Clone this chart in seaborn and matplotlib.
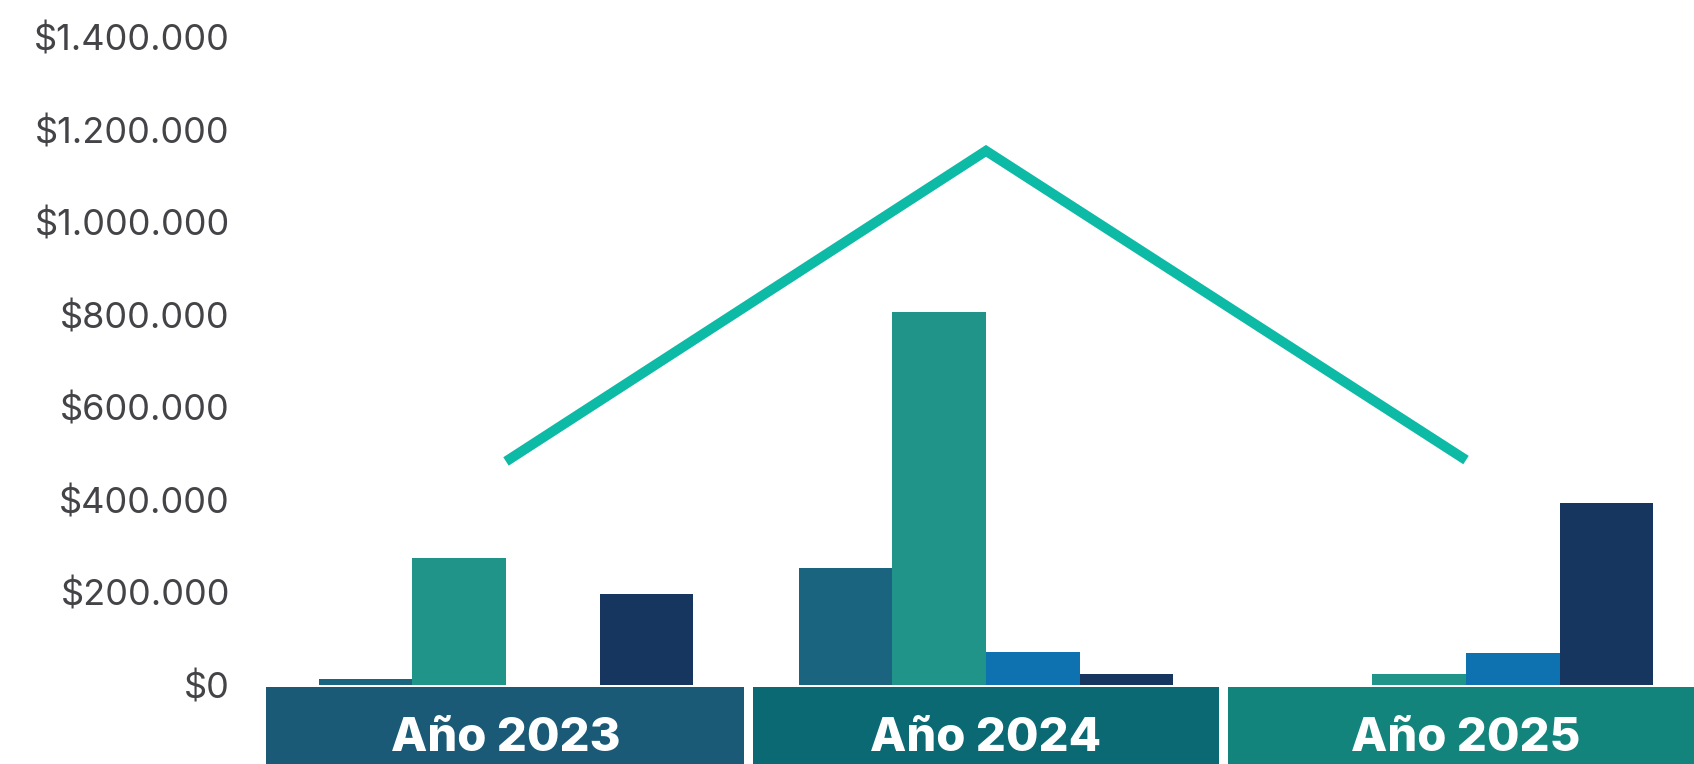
import matplotlib
matplotlib.use("Agg")
import matplotlib.pyplot as plt
import matplotlib.transforms as mtransforms
from matplotlib.patches import Rectangle
from matplotlib.ticker import FuncFormatter
import seaborn as sns
import pandas as pd

# ---- data ----
years = ["Año 2023", "Año 2024", "Año 2025"]
series_names = ["Serie 1", "Serie 2", "Serie 3", "Serie 4"]
serie1 = [13000, 253000, 0]
serie2 = [274000, 806000, 24000]
serie3 = [0, 71000, 69000]
serie4 = [196000, 24000, 393000]
totals = [483000, 1154000, 486000]
yticks = [0, 200000, 400000, 600000, 800000, 1000000, 1200000, 1400000]

bar_colors = ["#1B6480", "#219489", "#0E72B0", "#17365F"]
box_colors = ["#1A5A76", "#0A6973", "#13847C"]
line_color = "#0DBAA6"

rows = []
for name, vals in zip(series_names, [serie1, serie2, serie3, serie4]):
    for y, v in zip(years, vals):
        rows.append({"year": y, "serie": name, "value": v})
df = pd.DataFrame(rows)
df_line = pd.DataFrame({"pos": [0, 1, 2], "total": totals})

sns.set_theme(style="white")
plt.rcParams["font.family"] = ["Inter", "DejaVu Sans"]

W, H = 1694, 764
fig = plt.figure(figsize=(W / 100, H / 100), dpi=100)
left = 266 / W
bottom = (H - 685) / H
top = (H - 37) / H
ax = fig.add_axes([left, bottom, 1440 / W, top - bottom])

sns.barplot(data=df, x="year", y="value", hue="serie", order=years,
            hue_order=series_names, palette=bar_colors, width=0.78,
            saturation=1, linewidth=0, legend=False, ax=ax)

sns.lineplot(data=df_line, x="pos", y="total", color=line_color, linewidth=7.2,
             ax=ax, zorder=5, solid_capstyle="butt", solid_joinstyle="miter")

ax.set_xlim(-0.5, 2.5)
ax.set_ylim(0, 1400000)
ax.set_yticks(yticks)
ax.yaxis.set_major_formatter(FuncFormatter(lambda v, p: "$" + f"{int(v):,}".replace(",", ".")))
ax.tick_params(axis="y", length=0, pad=26, labelsize=26, labelcolor="#444448")
ax.set_xticks([])
ax.set_xlabel("")
ax.set_ylabel("")
for s in ax.spines.values():
    s.set_visible(False)

# category boxes below the axis
trans = mtransforms.blended_transform_factory(ax.transData, ax.transAxes)
box_spans = [(-0.5, 0.496), (0.515, 1.485), (1.504, 2.6)]
y0 = -79 / 648
y1 = -2 / 648
for (a, b), c, lab, cx in zip(box_spans, box_colors, years, [0, 1, 2]):
    ax.add_patch(Rectangle((a, y0), b - a, y1 - y0, transform=trans,
                           facecolor=c, edgecolor="none", clip_on=False))
    ax.text(cx, -0.084, lab, transform=trans, ha="center", va="center",
            color="white", fontsize=34, fontweight="heavy", clip_on=False)

fig.savefig("out.png", dpi=100)
